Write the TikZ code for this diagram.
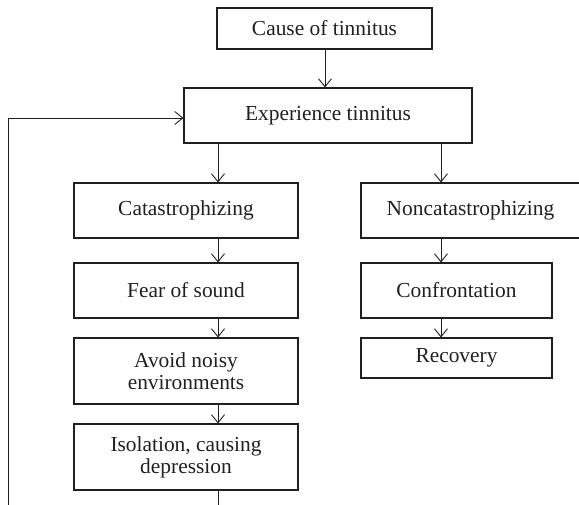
\documentclass[tikz,border=0pt]{standalone}
\usepackage{fontspec}
\setmainfont{Liberation Serif}
\usetikzlibrary{arrows.meta}
\definecolor{ink}{HTML}{231F20}
\tikzset{
  box/.style={draw=ink, line width=1.1pt, inner sep=0pt, align=center, text=ink,
    font=\fontsize{21.4}{22}\selectfont},
  conn/.style={draw=ink, line width=0.9pt, -{Straight Barb[length=8pt,width=13pt,line width=0.9pt]}},
}
\begin{document}
\begin{tikzpicture}[x=1pt,y=-1pt]
\useasboundingbox (0,0) rectangle (579,504);
\clip (0,0) rectangle (579,504);
\node[box, minimum width=215pt, minimum height=41pt] (cause) at (324.5,28.5) {Cause of tinnitus};
\node[box, minimum width=288pt, minimum height=55pt] (exp) at (328,115.5) {Experience tinnitus};
\node[box, minimum width=224pt, minimum height=55pt] (cat) at (186,210.5) {Catastrophizing};
\node[box, minimum width=219pt, minimum height=55pt] (noncat) at (470.5,210.5) {Noncatastrophizing};
\node[box, minimum width=224pt, minimum height=55pt] (fear) at (186,290.5) {Fear of sound};
\node[box, minimum width=224pt, minimum height=66pt] (avoid) at (186,371) {Avoid noisy\\environments};
\node[box, minimum width=224pt, minimum height=66pt] (iso) at (186,457) {Isolation, causing\\depression};
\node[box, minimum width=191pt, minimum height=55pt] (conf) at (456.5,290.5) {Confrontation};
\node[box, minimum width=191pt, minimum height=40pt] (rec) at (456.5,358) {Recovery};
\coordinate (colL) at (218,0);
\coordinate (colR) at (441,0);
\coordinate (colM) at (325,0);
\coordinate (loopY) at (0,118);
\coordinate (loopX) at (8,0);
\coordinate (loopB) at (0,530);
\draw[conn] (cause.south -| colM) -- (exp.north -| colM);
\draw[conn] (exp.south -| colL) -- (cat.north -| colL);
\draw[conn] (exp.south -| colR) -- (noncat.north -| colR);
\draw[conn] (cat.south -| colL) -- (fear.north -| colL);
\draw[conn] (fear.south -| colL) -- (avoid.north -| colL);
\draw[conn] (avoid.south -| colL) -- (iso.north -| colL);
\draw[conn] (noncat.south -| colR) -- (conf.north -| colR);
\draw[conn] (conf.south -| colR) -- (rec.north -| colR);
\draw[conn] (iso.south -| colL) -- (loopB -| colL) -- (loopB -| loopX) -- (loopY -| loopX) -- (exp.west |- loopY);
\end{tikzpicture}
\end{document}
